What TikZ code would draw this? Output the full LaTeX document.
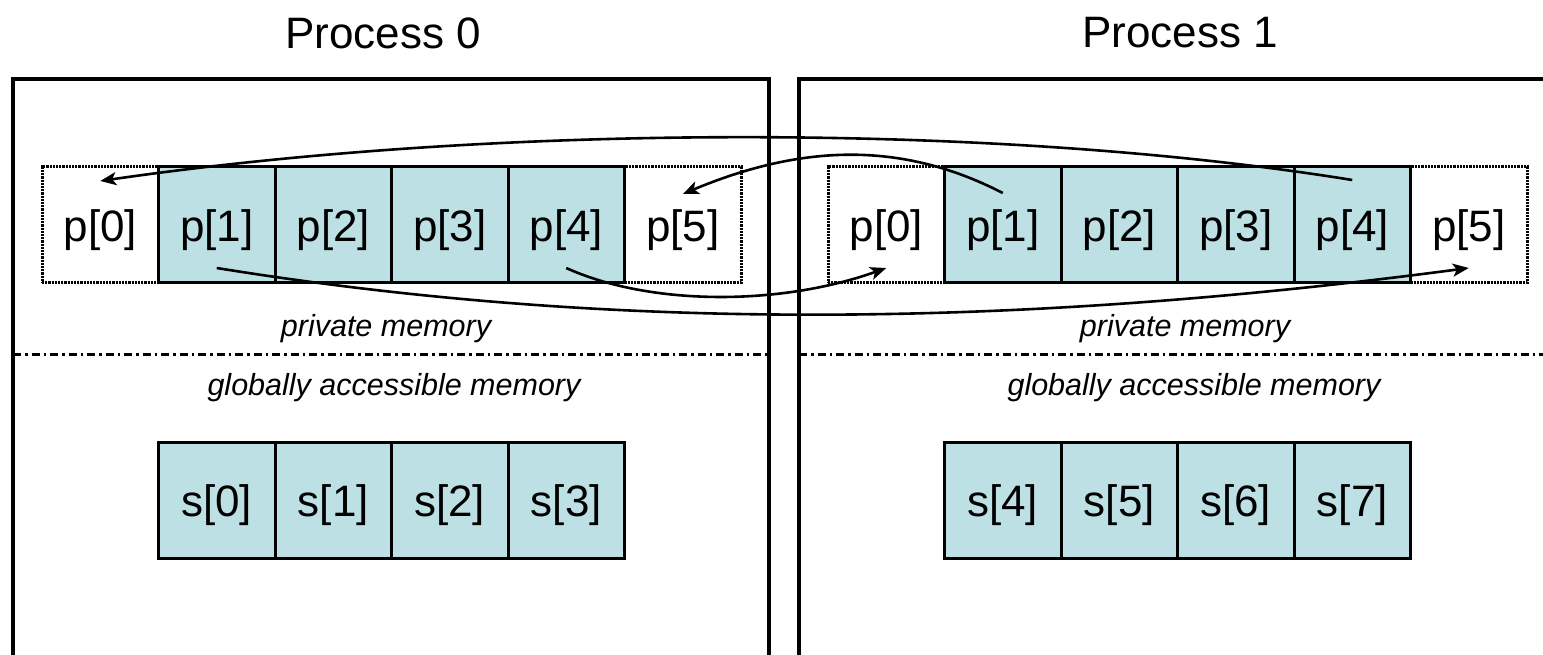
\documentclass[tikz,border=0pt]{standalone}
\usepackage{fontspec}
\setmainfont{Liberation Sans}
\usetikzlibrary{arrows.meta}
\definecolor{cellfill}{RGB}{188,224,227}
\tikzset{
  cell/.style={draw, fill=cellfill, line width=3pt, minimum width=116.5pt, minimum height=116pt, inner sep=0pt, text height=42pt, font=\fontsize{44}{52}\selectfont},
  ghost/.style={draw, dash pattern=on 2.2pt off 1pt, line width=3pt, minimum width=116.5pt, minimum height=116pt, inner sep=0pt, text height=42pt, font=\fontsize{44}{52}\selectfont},
  title/.style={font=\fontsize{44}{52}\selectfont, inner sep=0pt},
  memlabel/.style={font=\fontsize{30.5}{36}\selectfont\itshape, inner sep=0pt},
  frame/.style={line width=3.5pt},
  divider/.style={line width=3pt, dash pattern=on 8pt off 4pt on 2.5pt off 4pt},
  arr/.style={line width=2.6pt, -{Stealth[length=16pt, width=13pt, inset=4pt]}}
}
\begin{document}
\begin{tikzpicture}[x=1pt, y=-1pt]
\useasboundingbox (0,0) rectangle (1543,655);
\clip (0,0) rectangle (1543,655);
\fill[white] (0,0) rectangle (1543,655);

% titles
\node[title] (t0) at (383,33) {Process 0};
\node[title] (t1) at (1180,33) {Process 1};

% process frames
\draw[frame] (13,665) -- (13,79) -- (769,79) -- (769,665);
\draw[frame] (799,665) -- (799,79) -- (1560,79);

% dividers
\draw[divider] (13,354) -- (769,354);
\draw[divider] (799,354) -- (1550,354);

% memory labels
\node[memlabel] (pm0) at (386,329) {private memory};
\node[memlabel] (gm0) at (394,388) {globally accessible memory};
\node[memlabel] (pm1) at (1185,329) {private memory};
\node[memlabel] (gm1) at (1194,388) {globally accessible memory};

% private arrays, outer (ghost) cells
\node[ghost] (lp0) at (100.25,225) {p[0]};
\node[ghost] (lp5) at (682.75,225) {p[5]};
\node[ghost] (rp0) at (886.25,225) {p[0]};
\node[ghost] (rp5) at (1468.75,225) {p[5]};

% private arrays, owned cells
\foreach \i in {1,...,4} {
  \node[cell] (lp\i) at ({100.25+\i*116.5},225) {p[\i]};
  \node[cell] (rp\i) at ({886.25+\i*116.5},225) {p[\i]};
}

% shared arrays
\foreach \i in {0,...,3} {
  \node[cell] (ls\i) at ({216.75+\i*116.5},500) {s[\i]};
}
\foreach \i/\k in {0/4,1/5,2/6,3/7} {
  \node[cell] (rs\i) at ({1002.75+\i*116.5},500) {s[\k]};
}

% halo exchange arrows
\draw[arr] ([yshift=45pt]rp4.center) .. controls (1000,123) and (500,123) .. ([yshift=44pt]lp0.center);
\draw[arr] ([yshift=32pt]rp1.center) .. controls (900,140) and (800,145) .. ([yshift=31pt]lp5.center);
\draw[arr] ([yshift=-43pt]lp1.center) .. controls (600,330) and (1000,330) .. ([yshift=-43pt]rp5.center);
\draw[arr] ([yshift=-43pt]lp4.center) .. controls (650,306) and (780,306) .. ([yshift=-43pt]rp0.center);
\end{tikzpicture}
\end{document}
